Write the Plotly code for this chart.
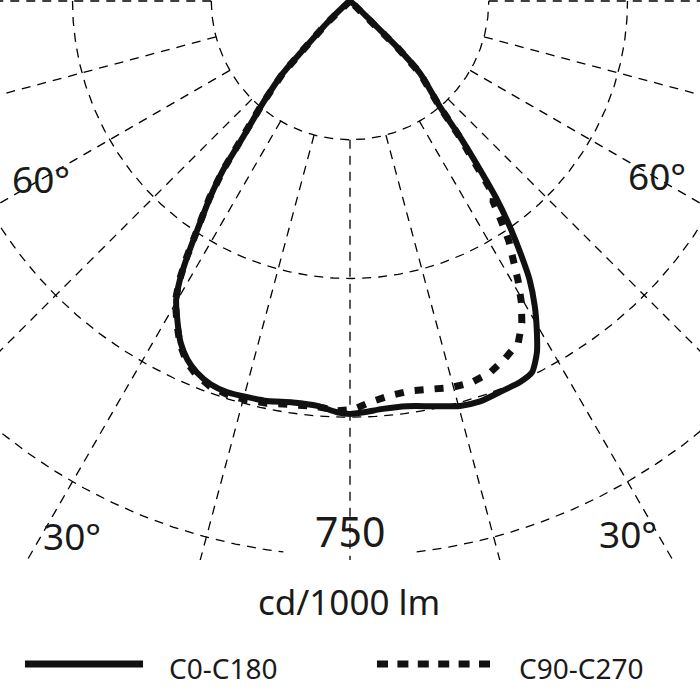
import numpy as np
import plotly.graph_objects as go

# ---- Data: luminous intensity (cd/1000 lm) versus gamma angle (deg from nadir; negative = left half)
c0_c180_gamma = [-90, -55, -49, -46.3, -43.8, -42.9, -40.5, -38.2, -36.9, -35.5, -33.7, -32.5, -31.4,
                 -30.2, -28.2, -26.4, -24.4, -22.4, -20.0, -17.4, -14.5, -11.7, -8.1, -4.6, -1.8, 0,
                 2.0, 4.6, 8.0, 11.6, 15.2, 18.0, 20.9, 24.0, 26.1, 28.0, 29.6, 31.2, 32.8, 33.9,
                 35.3, 36.5, 37.6, 39.0, 40.4, 44.1, 45.6, 46.5, 49, 55, 90]
c0_c180_cd = [0, 0, 14, 43, 92, 133, 181, 233, 285, 325, 372, 409, 441,
              467, 493, 515, 532, 543, 551, 554, 553, 552, 548, 549, 556, 558,
              556, 553, 553, 559, 567, 569, 566, 564, 559, 538, 511, 482, 448, 416,
              374, 334, 288, 236, 187, 136, 89, 37, 12, 0, 0]

c90_c270_gamma = [-90, -55, -49, -46.3, -43.8, -42.9, -40.5, -38.2, -36.9, -35.5, -33.7, -32.5, -31.4,
                  -30.2, -28.2, -26.4, -24.4, -22.4, -20.0, -17.4, -14.5, -11.7, -8.1, -4.6, -1.8, 0,
                  0.46, 2.85, 5.77, 8.73, 11.86, 14.7, 17.66, 20.6, 23.35, 26.2, 28.1, 29.6, 31.0,
                  32.2, 33.5, 34.5, 35.5, 36.5, 37.6, 39.0, 40.4, 44.1, 45.6, 46.5, 49, 55, 90]
c90_c270_cd = [0, 0, 14, 43, 92, 133, 182, 234, 286, 327, 374, 411, 443,
               469, 495, 517, 535, 546, 554, 557, 557, 555, 551, 550, 554, 554,
               552, 543, 536, 533, 536, 540, 541, 537, 527, 515, 493, 469, 441,
               415, 389, 361, 333, 326, 284, 233, 185, 136, 89, 37, 12, 0, 0]

ring_values = [187.5, 375, 562.5, 750]
spoke_angles = [-90, -75, -60, -45, -30, -15, 0, 15, 30, 45, 60, 75, 90]
angle_labels = [("60°", -60.1, 482), ("60°", 60.3, 477), ("30°", -27.5, 815), ("30°", 27.6, 812)]
scale_label = "750"
unit_label = "cd/1000 lm"
series_names = ["C0-C180", "C90-C270"]

# ---- geometry helpers (polar -> cartesian, nadir pointing down)
def to_xy(gamma_deg, r):
    g = np.radians(np.asarray(gamma_deg, dtype=float))
    r = np.asarray(r, dtype=float)
    return r * np.sin(g), -r * np.cos(g)

K = 750 / 555.0           # data units per pixel
X_HALF = 350 * K
Y_TOP = 1 * K
Y_BOT = -559 * K

GRID = dict(color="#000000", width=1.3, dash="9px,7px")
fig = go.Figure()

# rings
for v in ring_values:
    if v == 750:
        for seg in (np.linspace(-90, -6.9, 200), np.linspace(6.9, 90, 200)):
            x, y = to_xy(seg, np.full(seg.shape, v))
            fig.add_trace(go.Scatter(x=x, y=y, mode="lines", line=GRID, hoverinfo="skip", showlegend=False))
    else:
        seg = np.linspace(-90, 90, 361)
        x, y = to_xy(seg, np.full(seg.shape, v))
        fig.add_trace(go.Scatter(x=x, y=y, mode="lines", line=GRID, hoverinfo="skip", showlegend=False))

# spokes
for a in spoke_angles:
    x, y = to_xy([a, a], [ring_values[0], 2000])
    fig.add_trace(go.Scatter(x=x, y=y, mode="lines", line=GRID, hoverinfo="skip", showlegend=False))

# curves
x1, y1 = to_xy(c90_c270_gamma, c90_c270_cd)
fig.add_trace(go.Scatter(x=x1, y=y1, mode="lines", name=series_names[1],
                         line=dict(color="#111111", width=7, dash="9px,11px"), showlegend=False))
x0, y0 = to_xy(c0_c180_gamma, c0_c180_cd)
fig.add_trace(go.Scatter(x=x0, y=y0, mode="lines", name=series_names[0],
                         line=dict(color="#111111", width=6, shape="spline", smoothing=0.6), showlegend=False))

FONT = "Noto Sans"
TXT = "#1a1a1a"
ann = []
for txt, a, r in angle_labels:
    ax, ay = to_xy([a], [r])
    ann.append(dict(x=float(ax[0]), y=float(ay[0]), xref="x", yref="y", text=txt, showarrow=False,
                    font=dict(family=FONT, size=37, color=TXT), xanchor="center", yanchor="middle"))
ann.append(dict(x=0, y=-530 * K, xref="x", yref="y", text=scale_label, showarrow=False,
                font=dict(family=FONT, size=41, color=TXT), xanchor="center", yanchor="middle"))
ann.append(dict(x=349 / 700, y=(560 - 601) / 560, xref="paper", yref="paper", text=unit_label, showarrow=False,
                font=dict(family=FONT, size=35, color=TXT), xanchor="center", yanchor="middle"))

# custom legend (long sample lines as in the original)
ly = (560 - 664) / 560
shapes = [
    dict(type="line", xref="paper", yref="paper", x0=25 / 700, x1=143 / 700, y0=ly, y1=ly,
         line=dict(color="#111111", width=7)),
    dict(type="line", xref="paper", yref="paper", x0=377 / 700, x1=490 / 700, y0=ly, y1=ly,
         line=dict(color="#111111", width=7, dash="11px,9.4px")),
]
ann.append(dict(x=167 / 700, y=(560 - 668) / 560, xref="paper", yref="paper", text=series_names[0],
                showarrow=False, font=dict(family=FONT, size=28, color=TXT), xanchor="left", yanchor="middle"))
ann.append(dict(x=517 / 700, y=(560 - 668) / 560, xref="paper", yref="paper", text=series_names[1],
                showarrow=False, font=dict(family=FONT, size=28, color=TXT), xanchor="left", yanchor="middle"))

fig.update_layout(
    width=700, height=700,
    margin=dict(l=0, r=0, t=0, b=140, pad=0),
    paper_bgcolor="white", plot_bgcolor="white",
    xaxis=dict(range=[-X_HALF, X_HALF], visible=False, fixedrange=True),
    yaxis=dict(range=[Y_BOT, Y_TOP], visible=False, fixedrange=True),
    annotations=ann, shapes=shapes, showlegend=False,
)

fig.write_html("out.html", config={"displayModeBar": False},
               post_script="document.body.style.margin='0px';document.body.style.overflow='hidden';")
